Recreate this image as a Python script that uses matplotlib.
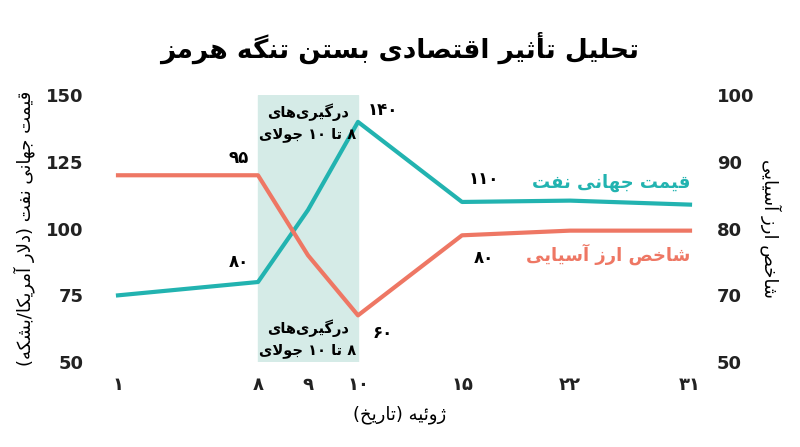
import matplotlib
matplotlib.use("Agg")
import matplotlib.pyplot as plt

# ---------- minimal Persian shaping ----------
D = {  # dual joining: iso, fin, ini, med
 'ب':(0xFE8F,0xFE90,0xFE91,0xFE92),'ت':(0xFE95,0xFE96,0xFE97,0xFE98),'ث':(0xFE99,0xFE9A,0xFE9B,0xFE9C),
 'ج':(0xFE9D,0xFE9E,0xFE9F,0xFEA0),'ح':(0xFEA1,0xFEA2,0xFEA3,0xFEA4),'خ':(0xFEA5,0xFEA6,0xFEA7,0xFEA8),
 'س':(0xFEB1,0xFEB2,0xFEB3,0xFEB4),'ش':(0xFEB5,0xFEB6,0xFEB7,0xFEB8),'ص':(0xFEB9,0xFEBA,0xFEBB,0xFEBC),
 'ف':(0xFED1,0xFED2,0xFED3,0xFED4),'ق':(0xFED5,0xFED6,0xFED7,0xFED8),'ک':(0xFB8E,0xFB8F,0xFB90,0xFB91),
 'گ':(0xFB92,0xFB93,0xFB94,0xFB95),'ل':(0xFEDD,0xFEDE,0xFEDF,0xFEE0),'م':(0xFEE1,0xFEE2,0xFEE3,0xFEE4),
 'ن':(0xFEE5,0xFEE6,0xFEE7,0xFEE8),'ه':(0xFEE9,0xFEEA,0xFEEB,0xFEEC),'ی':(0xFBFC,0xFBFD,0xFBFE,0xFBFF),
 'ئ':(0xFE89,0xFE8A,0xFE8B,0xFE8C),
}
R = {'ا':(0xFE8D,0xFE8E),'آ':(0xFE81,0xFE82),'أ':(0xFE83,0xFE84),'د':(0xFEA9,0xFEAA),'ر':(0xFEAD,0xFEAE),
     'ز':(0xFEAF,0xFEB0),'ژ':(0xFB8A,0xFB8B),'و':(0xFEED,0xFEEE)}
LA = {'ا':(0xFEFB,0xFEFC),'أ':(0xFEF7,0xFEF8),'آ':(0xFEF5,0xFEF6)}
MIRROR = {'(':')',')':'('}

def shape(s):
    out = []
    i = 0
    n = len(s)
    while i < n:
        c = s[i]
        prev = s[i-1] if i > 0 else ''
        jp = prev in D and (c in D or c in R)
        if c == 'ل' and i+1 < n and s[i+1] in LA:
            out.append(chr(LA[s[i+1]][1 if jp else 0])); i += 2; continue
        if c in D:
            nxt = s[i+1] if i+1 < n else ''
            jn = nxt in D or nxt in R
            f = D[c]
            out.append(chr(f[3] if jp and jn else f[1] if jp else f[2] if jn else f[0]))
        elif c in R:
            out.append(chr(R[c][1] if jp else R[c][0]))
        elif c == '\u200c':
            pass
        else:
            out.append(c)
        i += 1
    toks = []
    for ch in out:
        if ch.isdigit() and toks and toks[-1][0].isdigit():
            toks[-1] += ch
        else:
            toks.append(ch)
    return ''.join(MIRROR.get(t, t) for t in reversed(toks))

def fa(s):
    return '\n'.join(shape(l) for l in s.split('\n'))

# ---------- data ----------
days = ['۱', '۸', '۹', '۱۰', '۱۵', '۲۲', '۳۱']
oil = [75, 80, 107, 140, 110, 110.5, 109]
currency = [88, 88, 76, 67, 79, 79.7, 79.7]
left_ticks = [50, 75, 100, 125, 150]
right_ticks = [60, 70, 80, 90, 100]
right_tick_labels = ['50', '70', '80', '90', '100']
title = 'تحلیل تأثیر اقتصادی بستن تنگه هرمز'
oil_name = 'قیمت جهانی نفت'
cur_name = 'شاخص ارز آسیایی'
left_label = 'قیمت جهانی نفت (دلار آمریکا/بشکه)'
right_label = 'شاخص ارز آسیایی'
x_label = 'ژوئیه (تاریخ)'
shade_text = 'درگیری\u200cهای\n۸ تا ۱۰ جولای'
oil_notes = {1: '۸۰', 3: '۱۴۰', 4: '۱۱۰'}
cur_notes = {1: '۹۵', 3: '۶۰', 4: '۸۰'}

xpos = [0, 2.8, 3.8, 4.8, 6.88, 9.04, 11.44]  # layout spacing
TEAL = '#22b3b0'
RED = '#ee7764'
plt.rcParams['font.family'] = ['DejaVu Sans']
plt.rcParams['font.weight'] = 'bold'

fig = plt.figure(figsize=(8, 4.47), dpi=100)
ax = fig.add_axes([0.125, 0.19, 0.75, 0.597])
ax2 = ax.twinx()
ax.set_xlim(-0.36, 11.64)
ax.set_ylim(50, 150)
ax2.set_ylim(60, 100)
for a in (ax, ax2):
    for sp in a.spines.values():
        sp.set_visible(False)
    a.tick_params(length=0, labelsize=13, colors='#222222', pad=12)

ax.axvspan(xpos[1], xpos[3], color='#d5ebe7', zorder=0)
ax.plot(xpos, oil, color=TEAL, lw=3, zorder=3)
ax2.plot(xpos, currency, color=RED, lw=3, zorder=3)

ax.set_yticks(left_ticks)
ax2.set_yticks(right_ticks)
ax2.set_yticklabels(right_tick_labels)
ax.set_xticks(xpos)
ax.set_xticklabels(days, fontsize=13)
ax.tick_params(axis='x', pad=10)

ax.set_xlabel(fa(x_label), fontsize=13, labelpad=8)
ax.set_ylabel(fa(left_label), fontsize=13, labelpad=8)
ax2.set_ylabel(fa(right_label), fontsize=13, rotation=270, labelpad=20)
fig.suptitle(fa(title), fontsize=19, fontweight='bold', y=0.93)

mid = (xpos[1] + xpos[3]) / 2
ax.text(mid, 147, fa(shade_text), ha='center', va='top', fontsize=10.5, linespacing=1.4)
ax.text(mid, 66, fa(shade_text), ha='center', va='top', fontsize=10.5, linespacing=1.4)

offs_oil = {1: (-14, 8), 3: (18, 2), 4: (16, 10)}
for i, t in oil_notes.items():
    ax.annotate(t, (xpos[i], oil[i]), xytext=offs_oil[i], textcoords='offset points',
                ha='center', va='bottom', fontsize=12)
offs_cur = {1: (-14, 6), 3: (18, -6), 4: (16, -10)}
for i, t in cur_notes.items():
    ax2.annotate(t, (xpos[i], currency[i]), xytext=offs_cur[i], textcoords='offset points',
                 ha='center', va='bottom' if offs_cur[i][1] > 0 else 'top', fontsize=12)

ax.text(11.44, 117, fa(oil_name), ha='right', va='center', color=TEAL, fontsize=13)
ax.text(11.44, 90.5, fa(cur_name), ha='right', va='center', color=RED, fontsize=13)

fig.savefig('out.png', dpi=100)
